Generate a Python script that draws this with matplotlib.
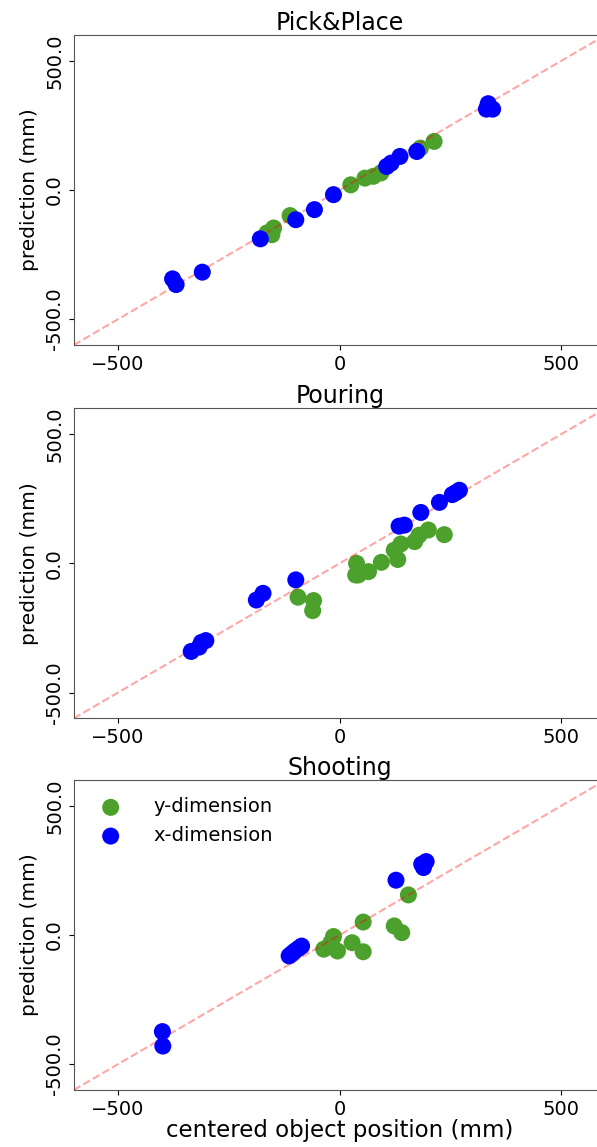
import matplotlib
matplotlib.use("Agg")
import matplotlib.pyplot as plt

titles = ["Pick&Place", "Pouring", "Shooting"]

# centered object position (mm) vs prediction (mm), per task
pick_y_true = [-164, -149, -153, -112, 25, 57, 76, 93, 182, 213]
pick_y_pred = [-166, -147, -173, -99, 20, 46, 53, 66, 162, 188]
pick_x_true = [-377, -369, -310, -179, -99, -57, -14, 106, 116, 136, 174, 335, 331, 345]
pick_x_pred = [-344, -366, -318, -189, -115, -76, -18, 91, 104, 130, 149, 334, 313, 313]

pour_y_true = [-94, -59, -61, 38, 42, 36, 65, 94, 123, 131, 138, 169, 179, 200, 236]
pour_y_pred = [-131, -144, -183, 0, -45, -45, -32, 4, 51, 15, 75, 84, 109, 129, 111]
pour_x_true = [-335, -317, -312, -302, -188, -173, -99, 134, 146, 183, 225, 254, 262, 270]
pour_x_pred = [-341, -324, -306, -299, -142, -116, -64, 144, 148, 197, 236, 266, 274, 283]

shoot_y_true = [-36, -14, -20, -5, 28, 53, 53, 123, 140, 155]
shoot_y_pred = [-55, -6, -30, -62, -30, 50, -65, 35, 9, 155]
shoot_x_true = [-400, -399, -114, -108, -101, -93, -86, 127, 185, 195, 189]
shoot_x_pred = [-374, -430, -81, -72, -62, -52, -43, 212, 274, 284, 261]

tasks = [
    (pick_y_true, pick_y_pred, pick_x_true, pick_x_pred),
    (pour_y_true, pour_y_pred, pour_x_true, pour_x_pred),
    (shoot_y_true, shoot_y_pred, shoot_x_true, shoot_x_pred),
]

GREEN = "#4ca12d"
BLUE = "#0000ff"
LIM = 600

fig = plt.figure(figsize=(5.97, 11.47), dpi=100)
bottoms = [0.6992, 0.3737, 0.0497]

for i, (title, (yt, yp, xt, xp)) in enumerate(zip(titles, tasks)):
    ax = fig.add_axes([0.1235, bottoms[i], 0.891, 0.2703])
    ax.scatter(yt, yp, s=150, color=GREEN, edgecolors="none", label="y-dimension", zorder=2)
    ax.plot([-LIM, LIM], [-LIM, LIM], "--", color="red", alpha=0.35, lw=1.5, zorder=3)
    ax.scatter(xt, xp, s=150, color=BLUE, edgecolors="none", label="x-dimension", zorder=4)
    ax.set_xlim(-LIM, LIM)
    ax.set_ylim(-LIM, LIM)
    ax.set_xticks([-500, 0, 500])
    ax.set_xticklabels(["\u2212500", "0", "500"], fontsize=14)
    ax.set_yticks([-500, 0, 500])
    ax.set_yticklabels(["-500.0", "0.0", "500.0"], fontsize=14, rotation=90, va="center")
    ax.set_ylabel("prediction (mm)", fontsize=14.5)
    ax.set_title(title, fontsize=17, pad=3)
    for sp in ax.spines.values():
        sp.set_color("#555555")
    if i == 2:
        ax.set_xlabel("centered object position (mm)", fontsize=16.5, labelpad=0)
        ax.legend(loc="upper left", frameon=False, fontsize=14, handletextpad=1.2)

fig.savefig("out.png", dpi=100)
